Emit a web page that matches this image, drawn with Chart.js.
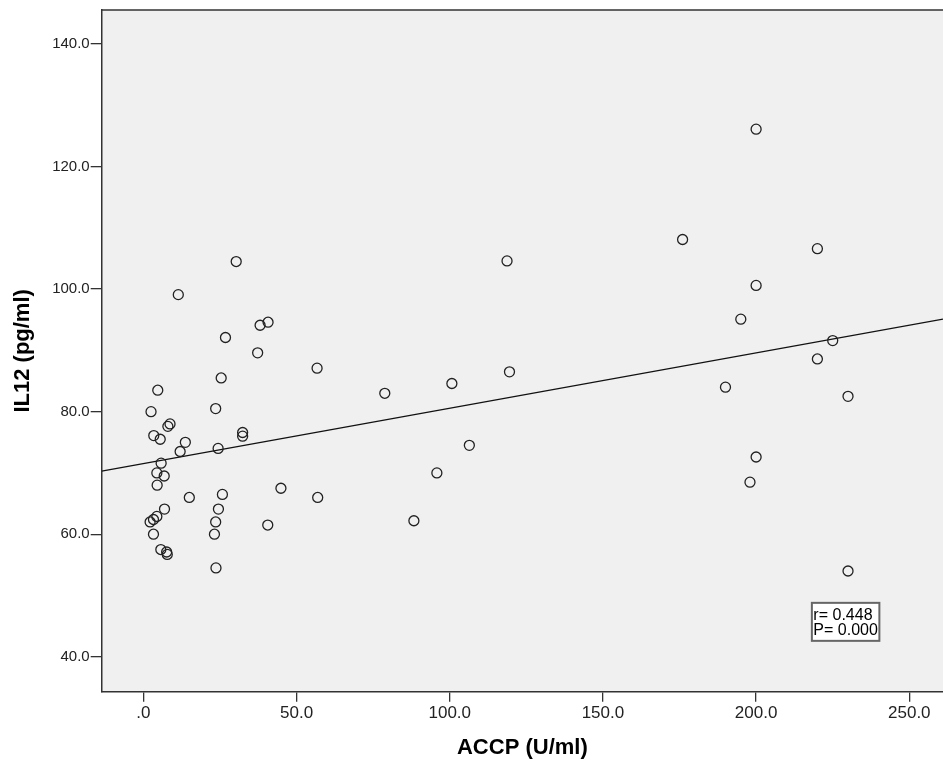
<!DOCTYPE html>
<html>
<head>
<meta charset="utf-8">
<script src="https://cdn.jsdelivr.net/npm/chart.js@4.4.1/dist/chart.umd.min.js"></script>
<style>
  html, body { margin: 0; padding: 0; background: #ffffff; }
  #wrap { width: 943px; height: 767px; }
</style>
</head>
<body>
<div id="wrap"><canvas id="scatterChart" width="943" height="767"></canvas></div>
<script>
// ACCP (U/ml) vs IL12 (pg/ml)
const accp = [
    200, 176, 220, 200, 195, 225, 220, 190, 230, 200, 198, 230,
    118.7, 56.7, 78.8, 100.7, 119.5, 106.4, 95.8, 44.9, 56.9, 88.3,
    11.4, 38.1, 40.7, 26.8, 37.3, 25.4, 4.7, 2.5, 23.6, 8.7,
    8.0, 3.4, 5.5, 32.4, 32.4, 13.7, 12.0, 24.4, 5.8, 4.4,
    6.8, 4.5, 15.0, 25.8, 6.9, 24.5, 4.4, 3.3, 2.2, 23.6,
    40.6, 3.3, 23.2, 5.7, 7.6, 7.8, 23.7, 30.3
];
const il12 = [
    126.1, 108.1, 106.6, 100.6, 95.1, 91.6, 88.6, 84.0, 82.5, 72.6, 68.5, 54.0,
    104.6, 87.1, 83.0, 84.6, 86.5, 74.5, 70.0, 67.5, 66.0, 62.2,
    99.1, 94.1, 94.6, 92.1, 89.6, 85.5, 83.5, 80.0, 80.5, 78.0,
    77.6, 76.1, 75.5, 76.6, 76.0, 75.0, 73.5, 74.0, 71.6, 70.0,
    69.5, 68.0, 66.0, 66.5, 64.1, 64.1, 62.9, 62.4, 62.0, 62.0,
    61.5, 60.0, 60.0, 57.5, 57.1, 56.7, 54.5, 104.5
];

// fit line ends, read at the left and right frame edges
const fitX = [-13.6, 261];
const fitY = [70.3, 95.1];

const xTicks = [0, 50, 100, 150, 200, 250];
const yTicks = [40, 60, 80, 100, 120, 140];
const statLines = ['r= 0.448', 'P= 0.000'];
const statAnchor = [218.2, 48.8]; // top-left of the stats box, data units

function fmt(v) {
    return v === 0 ? '.0' : v.toFixed(1);
}

const frameAndBox = {
    id: 'frameAndBox',
    beforeDraw(chart) {
        const { ctx, chartArea: a } = chart;
        ctx.save();
        ctx.fillStyle = '#f0f0f0';
        ctx.fillRect(a.left, a.top, a.right - a.left, a.bottom - a.top);
        ctx.restore();
    },
    afterDraw(chart) {
        const { ctx, chartArea: a, scales } = chart;
        ctx.save();
        // top edge of the frame
        ctx.strokeStyle = '#333';
        ctx.lineWidth = 1.5;
        ctx.beginPath();
        ctx.moveTo(a.left, a.top);
        ctx.lineTo(a.right, a.top);
        ctx.stroke();

        // r / P box
        const bx = scales.x.getPixelForValue(statAnchor[0]);
        const by = scales.y.getPixelForValue(statAnchor[1]);
        ctx.font = '16px "Liberation Sans", Arial, sans-serif';
        const w = Math.max(...statLines.map(t => ctx.measureText(t).width)) + 3;
        const h = 38;
        ctx.fillStyle = '#ffffff';
        ctx.fillRect(bx, by, w, h);
        ctx.strokeStyle = '#666';
        ctx.lineWidth = 2;
        ctx.strokeRect(bx, by, w, h);
        ctx.fillStyle = '#000';
        ctx.textBaseline = 'alphabetic';
        statLines.forEach((t, i) => ctx.fillText(t, bx + 1.5, by + 17 + i * 15));
        ctx.restore();
    }
};

const ctx = document.getElementById('scatterChart').getContext('2d');
new Chart(ctx, {
    type: 'scatter',
    data: {
        datasets: [{
            label: 'IL12',
            data: accp.map((x, i) => ({ x: x, y: il12[i] })),
            pointRadius: 5,
            pointHoverRadius: 5,
            pointBorderWidth: 1.3,
            borderColor: '#222',
            backgroundColor: 'rgba(0,0,0,0)'
        }, {
            type: 'line',
            label: 'Fit',
            data: fitX.map((x, i) => ({ x: x, y: fitY[i] })),
            borderColor: '#111',
            borderWidth: 1.2,
            pointRadius: 0,
            fill: false
        }]
    },
    options: {
        responsive: false,
        animation: false,
        events: [],
        layout: { autoPadding: false, padding: { top: 10, left: 0, right: 0, bottom: 0 } },
        plugins: {
            legend: { display: false },
            tooltip: { enabled: false }
        },
        scales: {
            x: {
                type: 'linear',
                min: -13.6,
                max: 261,
                afterBuildTicks: s => { s.ticks = xTicks.map(v => ({ value: v })); },
                afterFit: s => { s.height = 75.3; s.paddingLeft = 0; s.paddingRight = 0; },
                grid: { drawOnChartArea: false, tickLength: 10, color: '#333', lineWidth: 1.3 },
                border: { color: '#333', width: 1.5 },
                ticks: {
                    autoSkip: false,
                    maxRotation: 0,
                    padding: 1,
                    color: '#222',
                    font: { family: '"Liberation Sans", Arial, sans-serif', size: 17 },
                    callback: v => fmt(v)
                },
                title: {
                    display: true,
                    text: 'ACCP (U/ml)',
                    color: '#000',
                    font: { family: '"Liberation Sans", Arial, sans-serif', size: 22, weight: 'bold' },
                    padding: { top: 0, bottom: 6 }
                }
            },
            y: {
                type: 'linear',
                min: 34.3,
                max: 145.55,
                afterBuildTicks: s => { s.ticks = yTicks.map(v => ({ value: v })); },
                afterFit: s => { s.width = 101.7; },
                grid: { drawOnChartArea: false, tickLength: 11, color: '#333', lineWidth: 1.3 },
                border: { color: '#333', width: 1.5 },
                ticks: {
                    padding: 1,
                    color: '#222',
                    font: { family: '"Liberation Sans", Arial, sans-serif', size: 15 },
                    callback: v => fmt(v)
                },
                title: {
                    display: true,
                    text: 'IL12 (pg/ml)',
                    color: '#000',
                    font: { family: '"Liberation Sans", Arial, sans-serif', size: 22, weight: 'bold' },
                    padding: { top: 10, bottom: 0 }
                }
            }
        }
    },
    plugins: [frameAndBox]
});
</script>
</body>
</html>
